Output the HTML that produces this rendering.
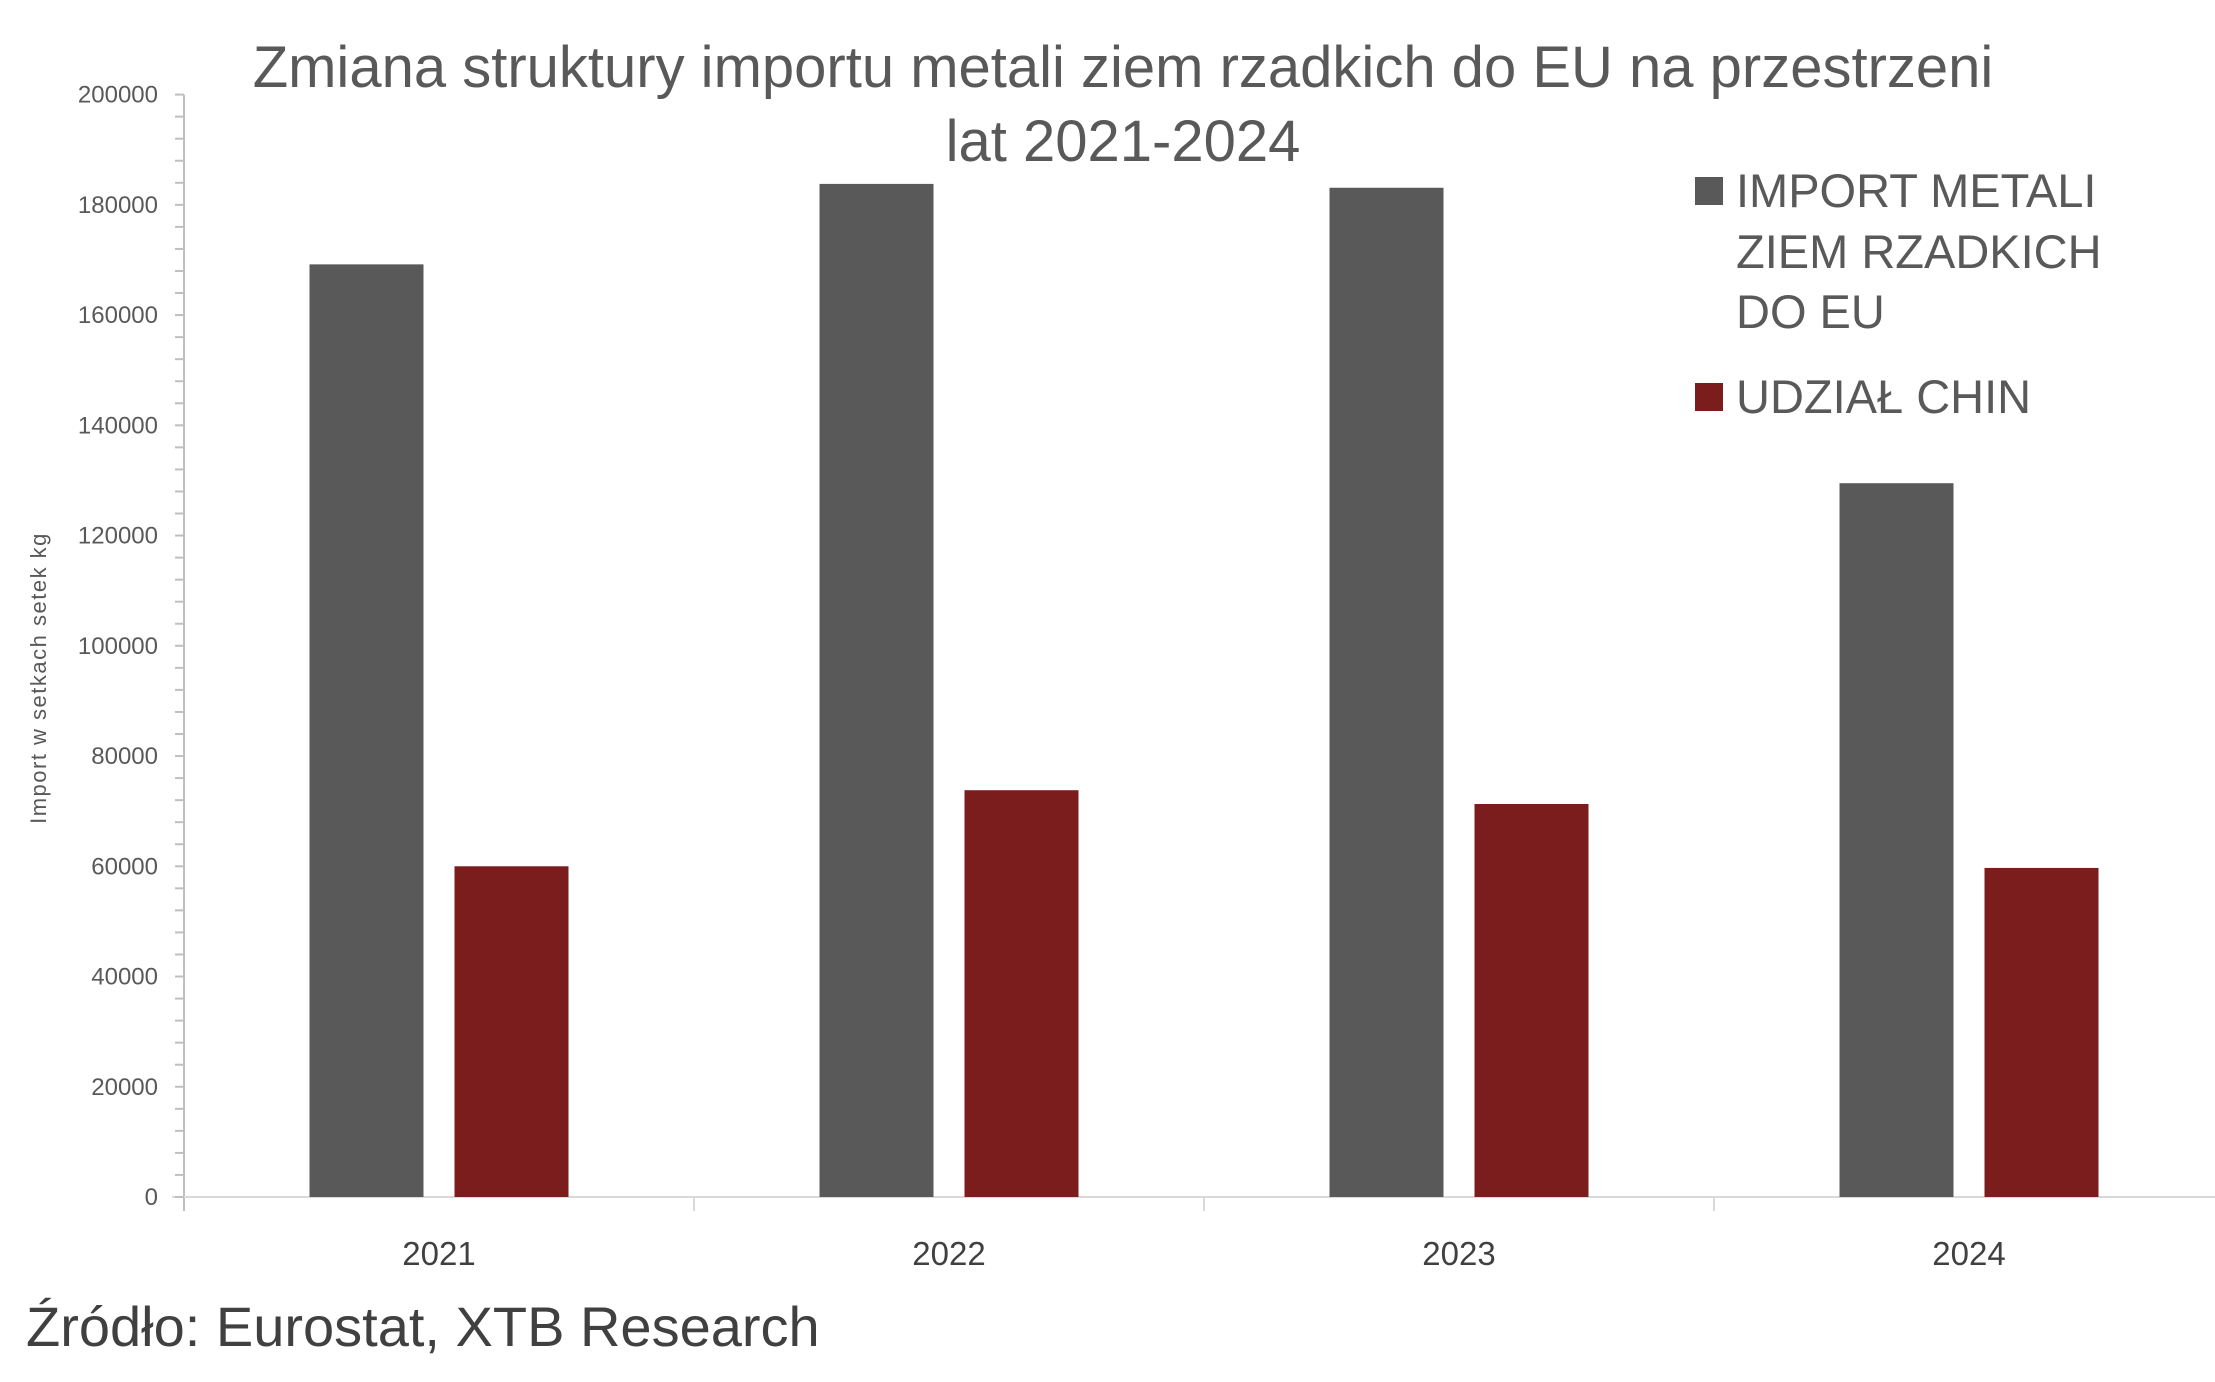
<!DOCTYPE html>
<html><head><meta charset="utf-8"><style>
body{margin:0;background:#fff;}
svg{display:block;font-family:"Liberation Sans",sans-serif;}
</style></head><body>
<svg id="chart" width="2215" height="1382" viewBox="0 0 2215 1382" xmlns="http://www.w3.org/2000/svg">
<text x="1123" y="87" font-size="58" fill="#595959" text-anchor="middle">Zmiana struktury importu metali ziem rzadkich do EU na przestrzeni</text>
<text x="1123" y="161" font-size="58" fill="#595959" text-anchor="middle">lat 2021-2024</text>
<g id="axes"></g>
<g id="bars"></g>
<text transform="translate(46,678) rotate(-90)" font-size="22" letter-spacing="1.5" fill="#595959" text-anchor="middle">Import w setkach setek kg</text>
<g>
<rect x="1695" y="177" width="28" height="28" fill="#595959"/>
<text x="1736" y="207" font-size="47" fill="#595959">IMPORT METALI</text>
<text x="1736" y="268" font-size="47" fill="#595959">ZIEM RZADKICH</text>
<text x="1736" y="328" font-size="47" fill="#595959">DO EU</text>
<rect x="1695" y="383" width="28" height="28" fill="#7b1c1d"/>
<text x="1736" y="413" font-size="47" fill="#595959">UDZIAŁ CHIN</text>
</g>
<text x="26" y="1346" font-size="56" fill="#404040">Źródło: Eurostat, XTB Research</text>
</svg>
<script>
const categories = ["2021","2022","2023","2024"];
const importValues = [169200, 183800, 183100, 129500];
const chinaValues = [60000, 73800, 71300, 59700];
const yTicks = [0,20000,40000,60000,80000,100000,120000,140000,160000,180000,200000];

const NS="http://www.w3.org/2000/svg";
const x0=184, yZero=1197, yTop=94.6, yMax=200000;
const catW=510;
const x1=x0+catW*categories.length;
const y=v=>yZero-(v/yMax)*(yZero-yTop);
const axes=document.getElementById('axes'), bars=document.getElementById('bars');
function mk(tag,attrs,parent){const e=document.createElementNS(NS,tag);for(const k in attrs)e.setAttribute(k,attrs[k]);parent.appendChild(e);return e;}

let l=mk('line',{x1:x0,y1:yTop,x2:x0,y2:yZero+14,stroke:'#bfbfbf','stroke-width':2},axes);


l=mk('line',{x1:x0-12,y1:yZero,x2:x1,y2:yZero,stroke:'#d9d9d9','stroke-width':2},axes);


const step=yTicks[1]-yTicks[0];
for(let v=0;v<=yMax;v+=step/5){
  const t=mk('line',{x1:x0-9,y1:y(v),x2:x0,y2:y(v),stroke:'#bfbfbf','stroke-width':2},axes);
  
  
}
yTicks.forEach(v=>{
  const t=mk('text',{x:158,y:y(v)+8,'font-size':24,fill:'#595959','text-anchor':'end'},axes);
  t.textContent=v;
  
  
});
for(let i=1;i<=categories.length;i++){
  const t=mk('line',{x1:x0+i*catW,y1:yZero,x2:x0+i*catW,y2:yZero+14,stroke:'#d9d9d9','stroke-width':2},axes);
  
  
}
const bw=114, gap=31;
categories.forEach((c,i)=>{
  const cx=x0+catW*(i+0.5);
  const t=mk('text',{x:cx,y:1265,'font-size':33,fill:'#404040','text-anchor':'middle'},axes);
  t.textContent=c;
  
  
  const g=mk('rect',{x:cx-gap/2-bw,y:y(importValues[i]),width:bw,height:yZero-y(importValues[i]),fill:'#595959'},bars);
  
  
  const r=mk('rect',{x:cx+gap/2,y:y(chinaValues[i]),width:bw,height:yZero-y(chinaValues[i]),fill:'#7b1c1d'},bars);
  
  
});
</script>
</body></html>
